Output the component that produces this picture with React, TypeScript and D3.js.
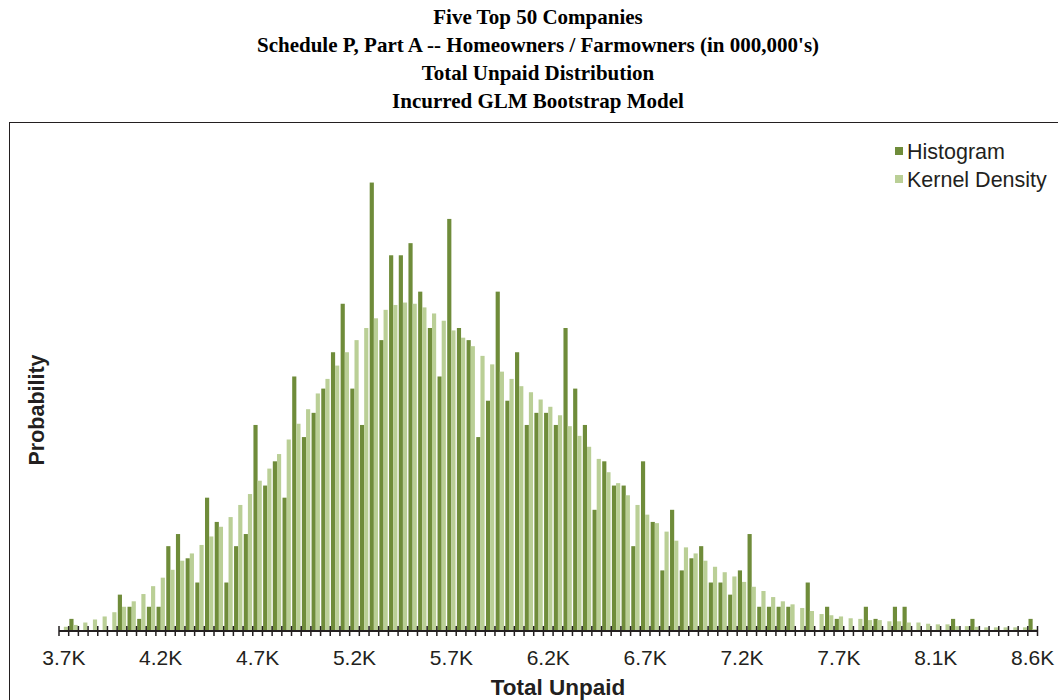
import React from "react";
import * as d3 from "d3";

// Simulated total unpaid, probability per bin (per mille of simulations)
const histogramPerMille = [
  0, 1, 0, 0, 0, 0, 3, 2, 1, 2,
  2, 7, 8, 6, 4, 11, 9, 4, 7, 8,
  17, 12, 14, 11, 21, 16, 18, 20, 23, 27,
  20, 17, 37, 24, 31, 31, 32, 28, 25, 21,
  34, 25, 24, 16, 19, 28, 19, 23, 17, 18,
  18, 17, 25, 20, 17, 10, 14, 12, 12, 7,
  14, 9, 5, 10, 5, 6, 7, 4, 4, 3,
  5, 8, 2, 2, 2, 2, 0, 4, 0, 2,
  1, 0, 0, 2, 1, 0, 2, 2, 0, 0,
  0, 0, 1, 0, 1, 0, 0, 0, 0, 0,
  1,
];

const kernelDensityPerMille = [
  0.35, 0.5, 0.7, 0.95, 1.2, 1.55, 2.0, 2.45, 3.05, 3.7,
  4.4, 5.05, 5.8, 6.4, 7.1, 7.8, 8.6, 9.4, 10.4, 11.3,
  12.4, 13.4, 14.6, 15.8, 17.1, 18.3, 19.6, 20.8, 21.9, 23.0,
  24.0, 25.0, 25.8, 26.5, 26.9, 27.1, 27.0, 26.7, 26.2, 25.6,
  24.8, 24.2, 23.5, 22.7, 22.0, 21.4, 20.8, 20.2, 19.7, 19.1,
  18.5, 17.8, 16.9, 16.1, 15.2, 14.2, 13.1, 12.2, 11.2, 10.4,
  9.6, 8.9, 8.2, 7.45, 6.9, 6.4, 5.8, 5.3, 4.85, 4.5,
  4.05, 3.65, 3.3, 2.8, 2.45, 2.2, 1.9, 1.65, 1.4, 1.3,
  1.2, 1.05, 1.0, 0.9, 0.9, 0.8, 0.8, 0.7, 0.7, 0.6,
  0.55, 0.55, 0.4, 0.4, 0.35, 0.3, 0.3, 0.3, 0.3, 0.3,
  0.15,
];

// Labels shown under every tenth bin
const axisLabels = ["3.7K", "4.2K", "4.7K", "5.2K", "5.7K", "6.2K", "6.7K", "7.2K", "7.7K", "8.1K", "8.6K"];
const labelEvery = 10;

const titleLines = [
  "Five Top 50 Companies",
  "Schedule P, Part A -- Homeowners / Farmowners (in 000,000's)",
  "Total Unpaid Distribution",
  "Incurred GLM Bootstrap Model",
];

const seriesNames = ["Histogram", "Kernel Density"];
const seriesColors = ["#6F8C3A", "#BACF96"];

export default function App() {
  const width = 1058;
  const height = 700;
  const left = 59;
  const right = 1037.5;
  const baseY = 631;
  const yTop = baseY - 40 * 12.12;

  const bins = d3.range(histogramPerMille.length);
  const x = d3
    .scaleBand<number>()
    .domain(bins)
    .range([left, right])
    .paddingInner(0.14)
    .paddingOuter(0.07);
  const sub = d3
    .scaleBand<string>()
    .domain(seriesNames)
    .range([0, x.bandwidth()])
    .padding(0);
  const y = d3.scaleLinear().domain([0, 40]).range([baseY, yTop]);

  const step = x.step();
  const tickXs = d3.range(bins.length + 1).map((i) => left + i * step);
  const series = [histogramPerMille, kernelDensityPerMille];

  const sans = "'Liberation Sans', Arial, sans-serif";
  const serif = "'Liberation Serif', 'Times New Roman', serif";

  return (
    <svg
      width={width}
      height={height}
      style={{ position: "absolute", left: 0, top: 0, background: "#fff" }}
    >
      {titleLines.map((t, i) => (
        <text
          key={i}
          x={538}
          y={24 + i * 28}
          textAnchor="middle"
          fontFamily={serif}
          fontWeight="bold"
          fontSize={21}
          fill="#000"
        >
          {t}
        </text>
      ))}

      <rect x={9.5} y={122.5} width={1060} height={640} fill="none" stroke="#231F20" strokeWidth={1} />

      {/* bars: histogram on the left, kernel density on the right of each bin */}
      {series.map((vals, s) => (
        <g key={s} fill={seriesColors[s]}>
          {bins.map((b) =>
            vals[b] > 0 ? (
              <rect
                key={b}
                x={(x(b) as number) + (sub(seriesNames[s]) as number)}
                y={y(vals[b])}
                width={sub.bandwidth()}
                height={baseY - y(vals[b])}
              />
            ) : null
          )}
        </g>
      ))}

      {/* category axis */}
      <line x1={left} x2={right} y1={baseY} y2={baseY} stroke="#231F20" strokeWidth={2} />
      {tickXs.map((tx, i) => (
        <line key={i} x1={tx} x2={tx} y1={baseY - 5} y2={baseY + 5} stroke="#231F20" strokeWidth={1.5} />
      ))}
      {axisLabels.map((lab, i) => (
        <text
          key={lab}
          x={(x(i * labelEvery) as number) + x.bandwidth() / 2}
          y={665}
          textAnchor="middle"
          fontFamily={sans}
          fontSize={21}
          fill="#231F20"
        >
          {lab}
        </text>
      ))}

      <text x={558} y={695} textAnchor="middle" fontFamily={sans} fontWeight="bold" fontSize={22.5} fill="#231F20">
        Total Unpaid
      </text>
      <text
        transform="translate(44,410) rotate(-90)"
        textAnchor="middle"
        fontFamily={sans}
        fontWeight="bold"
        fontSize={21.5}
        fill="#231F20"
      >
        Probability
      </text>

      {/* legend */}
      {seriesNames.map((n, i) => (
        <g key={n} transform={`translate(895, ${151 + i * 28})`}>
          <rect x={0} y={-4} width={8} height={8} fill={seriesColors[i]} />
          <text x={12} y={7.5} fontFamily={sans} fontSize={21.5} fill="#231F20">
            {n}
          </text>
        </g>
      ))}
    </svg>
  );
}
